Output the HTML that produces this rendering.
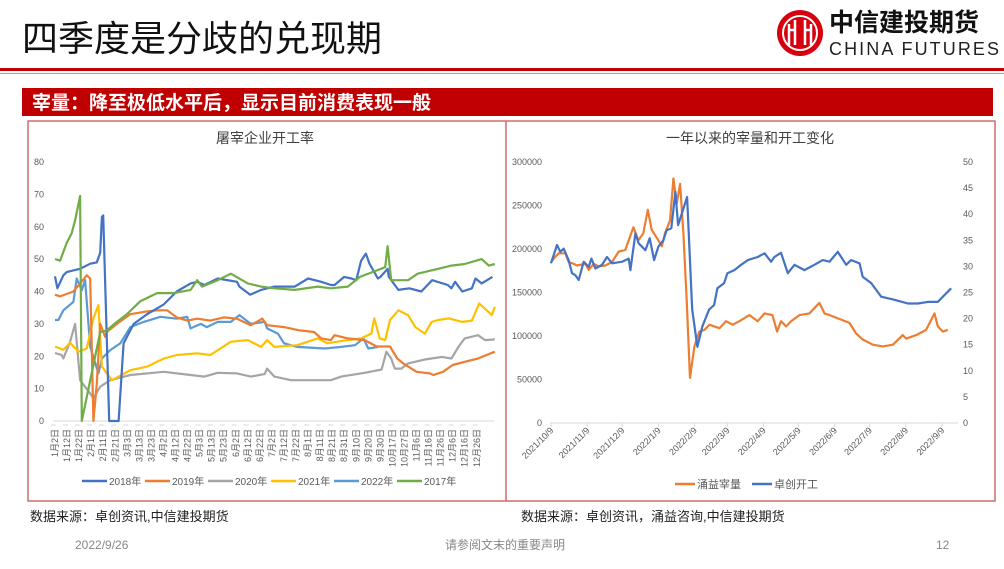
<!DOCTYPE html>
<html><head><meta charset="utf-8">
<style>
body{margin:0;width:1004px;height:564px;background:#fff;overflow:hidden;font-family:"Liberation Sans","Noto Sans CJK SC",sans-serif;}
svg text{font-family:"Liberation Sans","Noto Sans CJK SC",sans-serif;}
</style></head>
<body>
<svg id="page" width="1004" height="564" viewBox="0 0 1004 564">
  <text x="22" y="51" font-size="36" fill="#111">四季度是分歧的兑现期</text>
  <g>
    <circle cx="800" cy="33" r="23" fill="#d7000f"/>
    <circle cx="800" cy="33" r="17" fill="none" stroke="#fff" stroke-width="2"/>
    <path d="M789 45 V24 M795 45 V20 M805 45 V20 M811 45 V24 M789 30 H795 M805 30 H811" stroke="#fff" stroke-width="2.5" fill="none"/>
    <text x="829" y="31" font-size="25" font-weight="bold" fill="#111">中信建投期货</text>
    <text x="829" y="55" font-size="18" fill="#222" textLength="170">CHINA FUTURES</text>
  </g>
  <rect x="0" y="68" width="1004" height="3" fill="#c00000"/>
  <rect x="0" y="73" width="1004" height="1" fill="#e09090"/>
  <rect x="22" y="88" width="971" height="28" fill="#c00000"/>
  <text x="32" y="109" font-size="19" font-weight="bold" fill="#fff">宰量：降至极低水平后，显示目前消费表现一般</text>
  <rect x="28" y="121" width="967" height="380" fill="none" stroke="#d46a6a" stroke-width="1.5"/>
  <line x1="506" y1="121" x2="506" y2="501" stroke="#d46a6a" stroke-width="1.5"/>
  <g id="left"></g>
  <g id="right"></g>
  <text x="30" y="521" font-size="13" fill="#222">数据来源：卓创资讯,中信建投期货</text>
  <text x="521" y="521" font-size="13" fill="#222">数据来源：卓创资讯，涌益咨询,中信建投期货</text>
  <text x="75" y="549" font-size="12" fill="#888">2022/9/26</text>
  <text x="505" y="549" font-size="12" fill="#888" text-anchor="middle">请参阅文末的重要声明</text>
  <text x="936" y="549" font-size="12" fill="#888">12</text>
</svg>
<script>
// ---------- Left chart data ----------
const leftCategories = ["1月2日","1月12日","1月22日","2月1日","2月11日","2月21日","3月3日","3月13日","3月23日","4月2日","4月12日","4月22日","5月3日","5月13日","5月23日","6月2日","6月12日","6月22日","7月2日","7月12日","7月22日","8月1日","8月11日","8月21日","8月31日","9月10日","9月20日","9月30日","10月17日","10月27日","11月6日","11月16日","11月26日","12月6日","12月16日","12月26日"];
const leftYTicks = [0,10,20,30,40,50,60,70,80];
const seriesNames = ["2018年","2019年","2020年","2021年","2022年","2017年"];
const seriesColors = ["#4472c4","#ed7d31","#a5a5a5","#ffc000","#5b9bd5","#70ad47"];
const s2018x = [0,0.2,0.7,0.97,2.08,2.92,3.47,3.75,3.89,4,4.5,5.28,5.69,6.53,7.64,9.03,10.1,11.25,11.8,12.4,13.5,15.1,15.3,16.2,17.1,18.2,19.9,21,22.1,22.9,23.2,24,24.6,25,25.4,25.8,26.1,26.8,27,27.6,27.7,28.5,29.4,30.4,31.3,32.6,32.9,33.2,33.8,34.6,34.9,35.4,36.3];
const s2018y = [44.7,41,45,46,47,48.6,49,52,63,63.5,0,0,24,30,33,36,40,42.5,43,42,44,43,41.5,39,40.5,41.5,41.5,44,43,42,42,44.5,44,43.5,49.5,51.7,48.6,44,44.5,47,44.5,40.5,41,40,43.5,42,41,43,40,41,44,42.5,44.5];
const s2019x = [0,0.42,1.53,2.08,2.64,2.92,3.19,3.47,3.75,4.17,4.3,5.14,6.25,7.36,8.47,9.3,10.1,10.97,11.8,12.9,14,15.1,16.25,17.2,17.6,19,20.3,21.5,22.1,22.9,23.2,24.3,25.7,26.7,27.8,28.4,28.9,30,31.1,31.4,32.2,33,34,35.1,36.5];
const s2019y = [39,38.5,40,42.5,45,44,0,11.5,30,26,27.5,30,33,33.7,34.2,34.2,32,31,31.6,31,32,31.6,29.6,31.6,29.6,29,28,27.5,25.5,25,26.5,25.5,25,23,23,19.3,17.8,15.2,14.7,14.2,15.2,17.3,18.3,19.3,21.4];
const s2020x = [0,0.56,0.7,1.25,1.67,2.08,2.92,3.19,3.75,4.58,6.25,9.03,11.25,12.4,13.5,15.1,16.25,17.4,17.6,18.2,19.6,21.8,22.9,23.75,25.7,27.1,27.5,27.9,28.2,28.75,29.3,30.7,32.1,32.9,33.5,34,35.1,35.7,36.5];
const s2020y = [21,20.4,19.3,24.5,30,12.6,8.5,7,10.6,12.6,14.2,15.2,14.2,13.7,14.9,14.7,13.7,14.5,16.2,13.7,12.6,12.6,12.6,13.7,14.9,15.9,21.4,19.3,16.2,16.2,17.8,19,19.8,19.3,23,25.5,26.5,25,25.2];
const s2021x = [0,0.7,1.25,1.94,2.64,3.19,3.6,3.89,4.72,5.28,6.25,7.64,9.03,10.1,11.8,12.9,14.6,16,17.1,17.6,18.2,20.1,21.8,22.6,24.3,25.4,26.25,26.5,26.95,27.4,27.8,28.5,29.3,29.9,30.7,31.25,31.8,32.7,33.8,34.6,35.2,36.25,36.5];
const s2021y = [23,22,24.2,21.4,22.4,31.7,35.8,16.8,12.6,13.7,15.7,16.8,19.3,20.4,20.9,20.4,24.5,25,22.9,25,22.9,23.4,25.5,24,25,25.5,27,31.7,25.5,25,31.2,34.2,32.7,29,27,30.6,31.2,31.7,30.6,31,36.3,32.7,35.3];
const s2022x = [0,0.28,0.7,1.53,1.8,2.22,2.5,2.92,3.6,3.89,4.58,5.42,6.25,7.36,8.75,10.1,10.97,11.25,12.1,12.6,13.5,14.6,15.3,16.25,17.4,17.6,18.5,19,20.1,22.4,23.75,24.9,25.6,26,26.8];
const s2022y = [31.2,31.2,34.2,36.8,44,40.4,43.5,23,14.7,19.3,21.9,24,29,30.6,32.2,31.6,32.2,28.6,30,29,30.6,30.6,32.7,30,30.6,28.6,27,24,22.9,22.4,22.9,23.4,25.5,22.4,22.9];
const s2017x = [0,0.42,0.97,1.39,1.67,2.08,2.22,3.75,4.3,5.14,5.97,7.08,8.47,9.86,11.25,11.8,12.2,13.5,14.6,16,17.1,18.2,19.9,21.8,22.9,24.3,25.3,27.4,27.6,27.9,29.3,30.1,31.8,32.9,34,35.4,36,36.5];
const s2017y = [50,49.5,55,58,62,69.5,0,27.5,28,30.6,33,37,39.5,39.5,40.5,43.5,41.5,43.5,45.5,42.5,41.5,41,40.5,41.5,41,41.5,44.5,47.5,54,43.5,43.5,45.5,47,48,48.5,50,48,48.5];

// ---------- Right chart data ----------
const rightDateTicks = ["2021/10/9","2021/11/9","2021/12/9","2022/1/9","2022/2/9","2022/3/9","2022/4/9","2022/5/9","2022/6/9","2022/7/9","2022/8/9","2022/9/9"];
const rightDateDays = [0,31,61,92,123,151,182,212,243,273,304,335];
const leftAxisTicks = [0,50000,100000,150000,200000,250000,300000];
const rightAxisTicks = [0,5,10,15,20,25,30,35,40,45,50];
const slaughterDays = [0,3.7,6.6,12.3,15.1,19.4,22.3,29.4,32.3,36.6,40.9,46.6,52.3,58,63.7,70.6,74.9,79.1,82.9,86.3,92,94.9,97.7,102,104.9,107.7,110.6,113.4,116.3,119.1,122.9,127.1,131.4,135.7,144.3,149.9,155.7,161.4,170,177.1,182.9,189.7,193.7,197.1,201.4,205.7,212.9,221.4,230,234.3,238.6,255.7,261.4,267.1,275.7,284.3,292.9,301.4,304.3,312.9,321.4,328.6,331.4,335.7,340];
const slaughterVals = [185000,191000,195000,195000,185000,183000,181000,183000,176000,183000,180000,181000,185000,197000,199000,225000,210000,218000,245000,222000,210000,203000,218000,233000,281000,252000,275000,218000,141000,52000,88000,105000,107000,113000,109000,117000,113000,117000,124000,117000,126000,124000,105000,117000,111000,117000,124000,126000,138000,126000,124000,115000,103000,96000,90000,88000,90000,101000,97000,101000,107000,126000,111000,105000,107000];
const rateDays = [0,5.1,8,10.9,15.1,18,20.9,23.7,28,32.3,34.6,38,43.7,48,52.3,60.9,66.6,68,72.3,75.1,80.9,84.6,88.3,92,96.3,99,103.1,106.6,108.9,116.6,121,125.4,129.7,135.4,139.7,142.6,148.3,151.1,157.1,162.9,168.6,177.1,182.9,188.6,191.4,197.1,202.9,208.6,217.1,225.7,232.9,238.6,245.7,252.9,257.1,264.3,267.1,274.3,282.9,294.3,305.7,314.3,322.9,331.4,335.7,342.9];
const rateVals = [30.6,34.1,32.8,33.4,31.2,28.7,28.3,27.4,30.9,29.9,31.5,29.6,30.3,31.8,30.6,30.9,31.5,29.3,36.3,34.4,33.1,35.4,31.2,33.8,35,36.9,37.3,44.3,37.9,43.3,21.7,14.6,18.5,21.7,22.6,25.8,26.8,28.7,29.3,30.3,31.2,31.8,32.5,30.9,31.8,32.6,28.7,30.3,29.3,30.3,31.2,30.9,32.8,30.3,31.2,30.6,28,26.8,24.2,23.6,22.9,22.9,23.2,23.2,24.2,25.8,22.9,22.3];

const NS='http://www.w3.org/2000/svg';
function mk(tag,attrs,parent){const e=document.createElementNS(NS,tag);for(const k in attrs)e.setAttribute(k,attrs[k]);parent.appendChild(e);return e;}
function txt(parent,x,y,s,size,fill,anchor){const t=mk('text',{x:x,y:y,'font-size':size,fill:fill,'text-anchor':anchor||'start'},parent);t.textContent=s;return t;}
function path(xs,ys,fx,fy){return xs.map((v,i)=>(i?'L':'M')+fx(v).toFixed(1)+' '+fy(ys[i]).toFixed(1)).join(' ');}

// ----- Left chart -----
const L=document.getElementById('left');
const lx0=55,lstep=12.05,ly0=421,ly1=162;
const lX=i=>lx0+i*lstep, lY=v=>ly0-(v/80)*(ly0-ly1);
let t=txt(L,265,143,'屠宰企业开工率',14,'#404040','middle');


leftYTicks.forEach(v=>{const e=txt(L,44,lY(v)+3,String(v),9,'#595959','end');

});
let ax=mk('line',{x1:lx0-2,y1:ly0,x2:494,y2:ly0,stroke:'#d9d9d9','stroke-width':1},L);


leftCategories.forEach((c,i)=>{const x=lX(i);
mk('line',{x1:x-4,y1:ly0+4,x2:x+1,y2:ly0+4,stroke:'#d9d9d9','stroke-width':1},L);
const e=txt(L,0,0,c,9,'#595959','end');
e.setAttribute('transform','translate('+(x+3)+','+(ly0+8)+') rotate(-90)');

});
const lxs=[s2018x,s2019x,s2020x,s2021x,s2022x,s2017x], lys=[s2018y,s2019y,s2020y,s2021y,s2022y,s2017y];
[2,4,3,1,0,5].forEach(k=>{const p=mk('path',{d:path(lxs[k],lys[k],lX,lY),fill:'none',stroke:seriesColors[k],'stroke-width':2.2,'stroke-linejoin':'round'},L);

});
const legX=[53,116,179,242,305,368];
seriesNames.forEach((n,k)=>{const g=mk('g',{},L);


mk('line',{x1:legX[k]+29,y1:481,x2:legX[k]+54,y2:481,stroke:seriesColors[k],'stroke-width':2.5},g);
txt(g,legX[k]+56,485,n,10,'#595959');});

// ----- Right chart -----
const R=document.getElementById('right');
const rx0=551,rpd=(942-551)/335,ry0=423,ry1=162;
const rX=d=>rx0+d*rpd, rY=v=>ry0-(v/300000)*(ry0-ry1), rY2=v=>ry0-(v/50)*(ry0-ry1);
t=txt(R,750,143,'一年以来的宰量和开工变化',14,'#404040','middle');


leftAxisTicks.forEach(v=>{const e=txt(R,542,rY(v)+3,String(v),9,'#595959','end');

});
rightAxisTicks.forEach(v=>{const e=txt(R,963,rY2(v)+3,String(v),9,'#595959');

});
ax=mk('line',{x1:550,y1:ry0,x2:958,y2:ry0,stroke:'#d9d9d9','stroke-width':1},R);


rightDateTicks.forEach((s,i)=>{const x=rX(rightDateDays[i]);
mk('line',{x1:x,y1:ry0,x2:x,y2:ry0+4,stroke:'#d9d9d9'},R);
const e=txt(R,0,0,s,9,'#595959','end');
e.setAttribute('transform','translate('+(x+3)+','+(ry0+8)+') rotate(-45)');

});
let p=mk('path',{d:path(slaughterDays,slaughterVals,rX,rY),fill:'none',stroke:'#ed7d31','stroke-width':2.2,'stroke-linejoin':'round'},R);


p=mk('path',{d:path(rateDays,rateVals,rX,rY2),fill:'none',stroke:'#4472c4','stroke-width':2.2,'stroke-linejoin':'round'},R);


let g=mk('g',{},R);


mk('line',{x1:675,y1:484,x2:695,y2:484,stroke:'#ed7d31','stroke-width':2.5},g);
txt(g,697,488,'涌益宰量',11,'#595959');
g=mk('g',{},R);


mk('line',{x1:752,y1:484,x2:772,y2:484,stroke:'#4472c4','stroke-width':2.5},g);
txt(g,774,488,'卓创开工',11,'#595959');
</script>
</body></html>
